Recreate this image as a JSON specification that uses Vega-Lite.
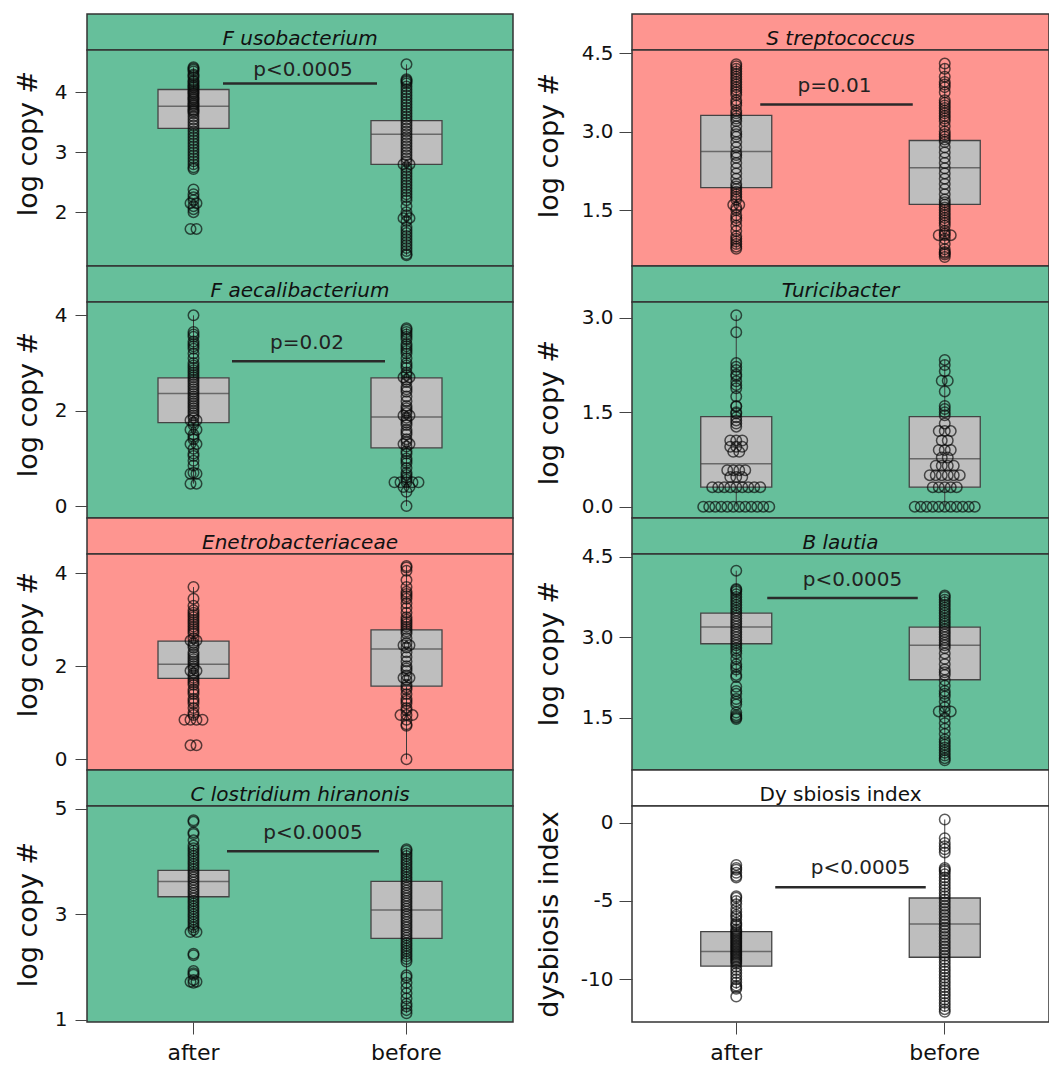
{
"$schema": "https://vega.github.io/schema/vega-lite/v6.json",
"padding": {"left": 13, "top": 13, "right": 0, "bottom": 0},
"background": "white",
"columns": 2,
"align": "each",
"bounds": "flush",
"spacing": {"row": 0, "column": 119},
"resolve": {"scale": {"xOffset": "independent", "x": "independent", "y": "independent"}},
"config": {
  "font": "DejaVu Sans",
  "view": {"stroke": null},
  "axis": {"labelFont": "DejaVu Sans", "titleFont": "DejaVu Sans", "titleFontWeight": "normal", "grid": false, "domain": false, "tickColor": "#444444", "labelColor": "#111111", "titleColor": "#111111"},
  "text": {"font": "DejaVu Sans"},
  "point": {"shape": "circle", "filled": false, "size": 110, "stroke": "#0a0a0a", "strokeWidth": 1.5, "strokeOpacity": 0.95}
},
"datasets": {
"box": [
{"p":"Fuso","g":"after","lo":2.72,"q1":3.40,"med":3.77,"q3":4.05,"hi":4.42},
{"p":"Fuso","g":"before","lo":1.28,"q1":2.80,"med":3.30,"q3":3.53,"hi":4.47},
{"p":"Faec","g":"after","lo":0.47,"q1":1.75,"med":2.36,"q3":2.69,"hi":4.0},
{"p":"Faec","g":"before","lo":0.0,"q1":1.22,"med":1.87,"q3":2.69,"hi":3.73},
{"p":"Ente","g":"after","lo":0.85,"q1":1.74,"med":2.04,"q3":2.54,"hi":3.7},
{"p":"Ente","g":"before","lo":0.0,"q1":1.57,"med":2.37,"q3":2.78,"hi":4.15},
{"p":"Clos","g":"after","lo":2.66,"q1":3.33,"med":3.62,"q3":3.83,"hi":4.3},
{"p":"Clos","g":"before","lo":1.12,"q1":2.54,"med":3.08,"q3":3.62,"hi":4.23},
{"p":"Strep","g":"after","lo":0.76,"q1":1.93,"med":2.62,"q3":3.31,"hi":4.29},
{"p":"Strep","g":"before","lo":0.6,"q1":1.61,"med":2.31,"q3":2.83,"hi":4.3},
{"p":"Turi","g":"after","lo":0.0,"q1":0.31,"med":0.68,"q3":1.43,"hi":3.04},
{"p":"Turi","g":"before","lo":0.0,"q1":0.31,"med":0.76,"q3":1.43,"hi":2.33},
{"p":"Blau","g":"after","lo":2.26,"q1":2.88,"med":3.19,"q3":3.45,"hi":4.24},
{"p":"Blau","g":"before","lo":0.71,"q1":2.21,"med":2.85,"q3":3.19,"hi":3.78},
{"p":"Dys","g":"after","lo":-10.6,"q1":-9.15,"med":-8.23,"q3":-6.95,"hi":-4.7},
{"p":"Dys","g":"before","lo":-12.07,"q1":-8.59,"med":-6.47,"q3":-4.81,"hi":0.2}
],
"pv": [
{"p":"Fuso","a":"after","b":"before","y":4.15,"t":"p<0.0005"},
{"p":"Faec","a":"after","b":"before","y":3.04,"t":"p=0.02"},
{"p":"Clos","a":"after","b":"before","y":4.19,"t":"p<0.0005"},
{"p":"Strep","a":"after","b":"before","y":3.52,"t":"p=0.01"},
{"p":"Blau","a":"after","b":"before","y":3.73,"t":"p<0.0005"},
{"p":"Dys","a":"after","b":"before","y":-4.13,"t":"p<0.0005"}
],
"pts": [
{"p":"Fuso","g":"after","v":4.42},{"p":"Fuso","g":"after","v":4.4},{"p":"Fuso","g":"after","v":4.38},{"p":"Fuso","g":"after","v":4.35},{"p":"Fuso","g":"after","v":4.3},{"p":"Fuso","g":"after","v":4.28},{"p":"Fuso","g":"after","v":4.25},{"p":"Fuso","g":"after","v":4.2},{"p":"Fuso","g":"after","v":4.18},{"p":"Fuso","g":"after","v":4.15},{"p":"Fuso","g":"after","v":4.12},{"p":"Fuso","g":"after","v":4.1},{"p":"Fuso","g":"after","v":4.08},{"p":"Fuso","g":"after","v":4.05},{"p":"Fuso","g":"after","v":4.02},{"p":"Fuso","g":"after","v":4.0},{"p":"Fuso","g":"after","v":3.98},{"p":"Fuso","g":"after","v":3.95},{"p":"Fuso","g":"after","v":3.92},{"p":"Fuso","g":"after","v":3.9},{"p":"Fuso","g":"after","v":3.88},{"p":"Fuso","g":"after","v":3.85},{"p":"Fuso","g":"after","v":3.82},{"p":"Fuso","g":"after","v":3.8},{"p":"Fuso","g":"after","v":3.78},{"p":"Fuso","g":"after","v":3.75},{"p":"Fuso","g":"after","v":3.72},{"p":"Fuso","g":"after","v":3.7},{"p":"Fuso","g":"after","v":3.68},{"p":"Fuso","g":"after","v":3.65},{"p":"Fuso","g":"after","v":3.6},{"p":"Fuso","g":"after","v":3.55},{"p":"Fuso","g":"after","v":3.5},{"p":"Fuso","g":"after","v":3.45},{"p":"Fuso","g":"after","v":3.4},{"p":"Fuso","g":"after","v":3.35},{"p":"Fuso","g":"after","v":3.3},{"p":"Fuso","g":"after","v":3.25},{"p":"Fuso","g":"after","v":3.2},{"p":"Fuso","g":"after","v":3.15},{"p":"Fuso","g":"after","v":3.1},{"p":"Fuso","g":"after","v":3.05},{"p":"Fuso","g":"after","v":3.0},{"p":"Fuso","g":"after","v":2.95},{"p":"Fuso","g":"after","v":2.9},{"p":"Fuso","g":"after","v":2.85},{"p":"Fuso","g":"after","v":2.8},{"p":"Fuso","g":"after","v":2.75},{"p":"Fuso","g":"after","v":2.72},{"p":"Fuso","g":"after","v":2.38},{"p":"Fuso","g":"after","v":2.3},{"p":"Fuso","g":"after","v":2.25},{"p":"Fuso","g":"after","v":2.2},{"p":"Fuso","g":"after","v":2.15},{"p":"Fuso","g":"after","v":2.15},{"p":"Fuso","g":"after","v":2.1},{"p":"Fuso","g":"after","v":2.05},{"p":"Fuso","g":"after","v":2.0},{"p":"Fuso","g":"after","v":1.72},{"p":"Fuso","g":"after","v":1.72},
{"p":"Fuso","g":"before","v":4.47},{"p":"Fuso","g":"before","v":4.22},{"p":"Fuso","g":"before","v":4.2},{"p":"Fuso","g":"before","v":4.18},{"p":"Fuso","g":"before","v":4.15},{"p":"Fuso","g":"before","v":4.1},{"p":"Fuso","g":"before","v":4.05},{"p":"Fuso","g":"before","v":4.0},{"p":"Fuso","g":"before","v":3.95},{"p":"Fuso","g":"before","v":3.9},{"p":"Fuso","g":"before","v":3.85},{"p":"Fuso","g":"before","v":3.8},{"p":"Fuso","g":"before","v":3.75},{"p":"Fuso","g":"before","v":3.7},{"p":"Fuso","g":"before","v":3.65},{"p":"Fuso","g":"before","v":3.6},{"p":"Fuso","g":"before","v":3.55},{"p":"Fuso","g":"before","v":3.5},{"p":"Fuso","g":"before","v":3.45},{"p":"Fuso","g":"before","v":3.4},{"p":"Fuso","g":"before","v":3.35},{"p":"Fuso","g":"before","v":3.3},{"p":"Fuso","g":"before","v":3.25},{"p":"Fuso","g":"before","v":3.2},{"p":"Fuso","g":"before","v":3.15},{"p":"Fuso","g":"before","v":3.1},{"p":"Fuso","g":"before","v":3.05},{"p":"Fuso","g":"before","v":3.0},{"p":"Fuso","g":"before","v":2.95},{"p":"Fuso","g":"before","v":2.9},{"p":"Fuso","g":"before","v":2.85},{"p":"Fuso","g":"before","v":2.8},{"p":"Fuso","g":"before","v":2.8},{"p":"Fuso","g":"before","v":2.75},{"p":"Fuso","g":"before","v":2.7},{"p":"Fuso","g":"before","v":2.65},{"p":"Fuso","g":"before","v":2.6},{"p":"Fuso","g":"before","v":2.55},{"p":"Fuso","g":"before","v":2.5},{"p":"Fuso","g":"before","v":2.45},{"p":"Fuso","g":"before","v":2.4},{"p":"Fuso","g":"before","v":2.35},{"p":"Fuso","g":"before","v":2.3},{"p":"Fuso","g":"before","v":2.25},{"p":"Fuso","g":"before","v":2.2},{"p":"Fuso","g":"before","v":2.1},{"p":"Fuso","g":"before","v":2.0},{"p":"Fuso","g":"before","v":1.95},{"p":"Fuso","g":"before","v":1.9},{"p":"Fuso","g":"before","v":1.9},{"p":"Fuso","g":"before","v":1.85},{"p":"Fuso","g":"before","v":1.75},{"p":"Fuso","g":"before","v":1.7},{"p":"Fuso","g":"before","v":1.65},{"p":"Fuso","g":"before","v":1.6},{"p":"Fuso","g":"before","v":1.55},{"p":"Fuso","g":"before","v":1.5},{"p":"Fuso","g":"before","v":1.45},{"p":"Fuso","g":"before","v":1.4},{"p":"Fuso","g":"before","v":1.35},{"p":"Fuso","g":"before","v":1.3},{"p":"Fuso","g":"before","v":1.28},
{"p":"Faec","g":"after","v":4.0},{"p":"Faec","g":"after","v":3.65},{"p":"Faec","g":"after","v":3.6},{"p":"Faec","g":"after","v":3.55},{"p":"Faec","g":"after","v":3.45},{"p":"Faec","g":"after","v":3.4},{"p":"Faec","g":"after","v":3.35},{"p":"Faec","g":"after","v":3.3},{"p":"Faec","g":"after","v":3.2},{"p":"Faec","g":"after","v":3.1},{"p":"Faec","g":"after","v":3.0},{"p":"Faec","g":"after","v":2.95},{"p":"Faec","g":"after","v":2.9},{"p":"Faec","g":"after","v":2.85},{"p":"Faec","g":"after","v":2.8},{"p":"Faec","g":"after","v":2.75},{"p":"Faec","g":"after","v":2.7},{"p":"Faec","g":"after","v":2.65},{"p":"Faec","g":"after","v":2.6},{"p":"Faec","g":"after","v":2.55},{"p":"Faec","g":"after","v":2.5},{"p":"Faec","g":"after","v":2.45},{"p":"Faec","g":"after","v":2.4},{"p":"Faec","g":"after","v":2.35},{"p":"Faec","g":"after","v":2.3},{"p":"Faec","g":"after","v":2.25},{"p":"Faec","g":"after","v":2.2},{"p":"Faec","g":"after","v":2.15},{"p":"Faec","g":"after","v":2.1},{"p":"Faec","g":"after","v":2.05},{"p":"Faec","g":"after","v":2.0},{"p":"Faec","g":"after","v":1.95},{"p":"Faec","g":"after","v":1.9},{"p":"Faec","g":"after","v":1.85},{"p":"Faec","g":"after","v":1.8},{"p":"Faec","g":"after","v":1.8},{"p":"Faec","g":"after","v":1.75},{"p":"Faec","g":"after","v":1.7},{"p":"Faec","g":"after","v":1.6},{"p":"Faec","g":"after","v":1.6},{"p":"Faec","g":"after","v":1.5},{"p":"Faec","g":"after","v":1.45},{"p":"Faec","g":"after","v":1.4},{"p":"Faec","g":"after","v":1.3},{"p":"Faec","g":"after","v":1.3},{"p":"Faec","g":"after","v":1.2},{"p":"Faec","g":"after","v":1.1},{"p":"Faec","g":"after","v":1.05},{"p":"Faec","g":"after","v":0.95},{"p":"Faec","g":"after","v":0.85},{"p":"Faec","g":"after","v":0.7},{"p":"Faec","g":"after","v":0.68},{"p":"Faec","g":"after","v":0.68},{"p":"Faec","g":"after","v":0.47},{"p":"Faec","g":"after","v":0.47},
{"p":"Faec","g":"before","v":3.73},{"p":"Faec","g":"before","v":3.7},{"p":"Faec","g":"before","v":3.65},{"p":"Faec","g":"before","v":3.6},{"p":"Faec","g":"before","v":3.55},{"p":"Faec","g":"before","v":3.5},{"p":"Faec","g":"before","v":3.4},{"p":"Faec","g":"before","v":3.35},{"p":"Faec","g":"before","v":3.3},{"p":"Faec","g":"before","v":3.25},{"p":"Faec","g":"before","v":3.2},{"p":"Faec","g":"before","v":3.1},{"p":"Faec","g":"before","v":3.0},{"p":"Faec","g":"before","v":2.95},{"p":"Faec","g":"before","v":2.9},{"p":"Faec","g":"before","v":2.8},{"p":"Faec","g":"before","v":2.75},{"p":"Faec","g":"before","v":2.7},{"p":"Faec","g":"before","v":2.7},{"p":"Faec","g":"before","v":2.65},{"p":"Faec","g":"before","v":2.6},{"p":"Faec","g":"before","v":2.5},{"p":"Faec","g":"before","v":2.45},{"p":"Faec","g":"before","v":2.4},{"p":"Faec","g":"before","v":2.3},{"p":"Faec","g":"before","v":2.2},{"p":"Faec","g":"before","v":2.1},{"p":"Faec","g":"before","v":2.05},{"p":"Faec","g":"before","v":2.0},{"p":"Faec","g":"before","v":1.95},{"p":"Faec","g":"before","v":1.9},{"p":"Faec","g":"before","v":1.9},{"p":"Faec","g":"before","v":1.85},{"p":"Faec","g":"before","v":1.8},{"p":"Faec","g":"before","v":1.75},{"p":"Faec","g":"before","v":1.7},{"p":"Faec","g":"before","v":1.6},{"p":"Faec","g":"before","v":1.55},{"p":"Faec","g":"before","v":1.5},{"p":"Faec","g":"before","v":1.4},{"p":"Faec","g":"before","v":1.35},{"p":"Faec","g":"before","v":1.3},{"p":"Faec","g":"before","v":1.3},{"p":"Faec","g":"before","v":1.25},{"p":"Faec","g":"before","v":1.15},{"p":"Faec","g":"before","v":1.1},{"p":"Faec","g":"before","v":1.0},{"p":"Faec","g":"before","v":0.95},{"p":"Faec","g":"before","v":0.9},{"p":"Faec","g":"before","v":0.8},{"p":"Faec","g":"before","v":0.7},{"p":"Faec","g":"before","v":0.65},{"p":"Faec","g":"before","v":0.6},{"p":"Faec","g":"before","v":0.55},{"p":"Faec","g":"before","v":0.5},{"p":"Faec","g":"before","v":0.5},{"p":"Faec","g":"before","v":0.5},{"p":"Faec","g":"before","v":0.5},{"p":"Faec","g":"before","v":0.5},{"p":"Faec","g":"before","v":0.4},{"p":"Faec","g":"before","v":0.4},{"p":"Faec","g":"before","v":0.3},{"p":"Faec","g":"before","v":0.0},
{"p":"Ente","g":"after","v":3.7},{"p":"Ente","g":"after","v":3.45},{"p":"Ente","g":"after","v":3.3},{"p":"Ente","g":"after","v":3.2},{"p":"Ente","g":"after","v":3.15},{"p":"Ente","g":"after","v":3.1},{"p":"Ente","g":"after","v":3.05},{"p":"Ente","g":"after","v":3.0},{"p":"Ente","g":"after","v":2.95},{"p":"Ente","g":"after","v":2.9},{"p":"Ente","g":"after","v":2.85},{"p":"Ente","g":"after","v":2.8},{"p":"Ente","g":"after","v":2.75},{"p":"Ente","g":"after","v":2.7},{"p":"Ente","g":"after","v":2.6},{"p":"Ente","g":"after","v":2.55},{"p":"Ente","g":"after","v":2.55},{"p":"Ente","g":"after","v":2.5},{"p":"Ente","g":"after","v":2.45},{"p":"Ente","g":"after","v":2.4},{"p":"Ente","g":"after","v":2.3},{"p":"Ente","g":"after","v":2.25},{"p":"Ente","g":"after","v":2.2},{"p":"Ente","g":"after","v":2.15},{"p":"Ente","g":"after","v":2.1},{"p":"Ente","g":"after","v":2.05},{"p":"Ente","g":"after","v":2.0},{"p":"Ente","g":"after","v":1.95},{"p":"Ente","g":"after","v":1.9},{"p":"Ente","g":"after","v":1.9},{"p":"Ente","g":"after","v":1.85},{"p":"Ente","g":"after","v":1.8},{"p":"Ente","g":"after","v":1.75},{"p":"Ente","g":"after","v":1.7},{"p":"Ente","g":"after","v":1.65},{"p":"Ente","g":"after","v":1.6},{"p":"Ente","g":"after","v":1.5},{"p":"Ente","g":"after","v":1.45},{"p":"Ente","g":"after","v":1.4},{"p":"Ente","g":"after","v":1.3},{"p":"Ente","g":"after","v":1.25},{"p":"Ente","g":"after","v":1.2},{"p":"Ente","g":"after","v":1.1},{"p":"Ente","g":"after","v":1.0},{"p":"Ente","g":"after","v":0.95},{"p":"Ente","g":"after","v":0.85},{"p":"Ente","g":"after","v":0.85},{"p":"Ente","g":"after","v":0.85},{"p":"Ente","g":"after","v":0.85},{"p":"Ente","g":"after","v":0.3},{"p":"Ente","g":"after","v":0.3},
{"p":"Ente","g":"before","v":4.15},{"p":"Ente","g":"before","v":4.12},{"p":"Ente","g":"before","v":4.05},{"p":"Ente","g":"before","v":3.85},{"p":"Ente","g":"before","v":3.7},{"p":"Ente","g":"before","v":3.6},{"p":"Ente","g":"before","v":3.55},{"p":"Ente","g":"before","v":3.5},{"p":"Ente","g":"before","v":3.45},{"p":"Ente","g":"before","v":3.35},{"p":"Ente","g":"before","v":3.25},{"p":"Ente","g":"before","v":3.15},{"p":"Ente","g":"before","v":3.05},{"p":"Ente","g":"before","v":3.0},{"p":"Ente","g":"before","v":2.95},{"p":"Ente","g":"before","v":2.9},{"p":"Ente","g":"before","v":2.85},{"p":"Ente","g":"before","v":2.8},{"p":"Ente","g":"before","v":2.75},{"p":"Ente","g":"before","v":2.7},{"p":"Ente","g":"before","v":2.6},{"p":"Ente","g":"before","v":2.5},{"p":"Ente","g":"before","v":2.45},{"p":"Ente","g":"before","v":2.45},{"p":"Ente","g":"before","v":2.4},{"p":"Ente","g":"before","v":2.3},{"p":"Ente","g":"before","v":2.2},{"p":"Ente","g":"before","v":2.1},{"p":"Ente","g":"before","v":2.0},{"p":"Ente","g":"before","v":1.95},{"p":"Ente","g":"before","v":1.9},{"p":"Ente","g":"before","v":1.8},{"p":"Ente","g":"before","v":1.75},{"p":"Ente","g":"before","v":1.75},{"p":"Ente","g":"before","v":1.7},{"p":"Ente","g":"before","v":1.6},{"p":"Ente","g":"before","v":1.55},{"p":"Ente","g":"before","v":1.5},{"p":"Ente","g":"before","v":1.4},{"p":"Ente","g":"before","v":1.3},{"p":"Ente","g":"before","v":1.25},{"p":"Ente","g":"before","v":1.2},{"p":"Ente","g":"before","v":1.1},{"p":"Ente","g":"before","v":1.05},{"p":"Ente","g":"before","v":0.95},{"p":"Ente","g":"before","v":0.95},{"p":"Ente","g":"before","v":0.95},{"p":"Ente","g":"before","v":0.85},{"p":"Ente","g":"before","v":0.75},{"p":"Ente","g":"before","v":0.72},{"p":"Ente","g":"before","v":0.0},
{"p":"Clos","g":"after","v":4.78},{"p":"Clos","g":"after","v":4.75},{"p":"Clos","g":"after","v":4.55},{"p":"Clos","g":"after","v":4.52},{"p":"Clos","g":"after","v":4.4},{"p":"Clos","g":"after","v":4.3},{"p":"Clos","g":"after","v":4.25},{"p":"Clos","g":"after","v":4.2},{"p":"Clos","g":"after","v":4.15},{"p":"Clos","g":"after","v":4.1},{"p":"Clos","g":"after","v":4.05},{"p":"Clos","g":"after","v":4.0},{"p":"Clos","g":"after","v":3.95},{"p":"Clos","g":"after","v":3.9},{"p":"Clos","g":"after","v":3.85},{"p":"Clos","g":"after","v":3.8},{"p":"Clos","g":"after","v":3.75},{"p":"Clos","g":"after","v":3.7},{"p":"Clos","g":"after","v":3.65},{"p":"Clos","g":"after","v":3.6},{"p":"Clos","g":"after","v":3.55},{"p":"Clos","g":"after","v":3.5},{"p":"Clos","g":"after","v":3.45},{"p":"Clos","g":"after","v":3.4},{"p":"Clos","g":"after","v":3.35},{"p":"Clos","g":"after","v":3.3},{"p":"Clos","g":"after","v":3.25},{"p":"Clos","g":"after","v":3.2},{"p":"Clos","g":"after","v":3.15},{"p":"Clos","g":"after","v":3.1},{"p":"Clos","g":"after","v":3.05},{"p":"Clos","g":"after","v":3.0},{"p":"Clos","g":"after","v":2.95},{"p":"Clos","g":"after","v":2.9},{"p":"Clos","g":"after","v":2.85},{"p":"Clos","g":"after","v":2.8},{"p":"Clos","g":"after","v":2.75},{"p":"Clos","g":"after","v":2.7},{"p":"Clos","g":"after","v":2.66},{"p":"Clos","g":"after","v":2.66},{"p":"Clos","g":"after","v":2.25},{"p":"Clos","g":"after","v":2.22},{"p":"Clos","g":"after","v":1.92},{"p":"Clos","g":"after","v":1.88},{"p":"Clos","g":"after","v":1.85},{"p":"Clos","g":"after","v":1.75},{"p":"Clos","g":"after","v":1.72},{"p":"Clos","g":"after","v":1.72},{"p":"Clos","g":"after","v":1.7},
{"p":"Clos","g":"before","v":4.23},{"p":"Clos","g":"before","v":4.2},{"p":"Clos","g":"before","v":4.15},{"p":"Clos","g":"before","v":4.1},{"p":"Clos","g":"before","v":4.05},{"p":"Clos","g":"before","v":4.0},{"p":"Clos","g":"before","v":3.95},{"p":"Clos","g":"before","v":3.9},{"p":"Clos","g":"before","v":3.85},{"p":"Clos","g":"before","v":3.8},{"p":"Clos","g":"before","v":3.75},{"p":"Clos","g":"before","v":3.7},{"p":"Clos","g":"before","v":3.65},{"p":"Clos","g":"before","v":3.6},{"p":"Clos","g":"before","v":3.55},{"p":"Clos","g":"before","v":3.5},{"p":"Clos","g":"before","v":3.45},{"p":"Clos","g":"before","v":3.4},{"p":"Clos","g":"before","v":3.35},{"p":"Clos","g":"before","v":3.3},{"p":"Clos","g":"before","v":3.25},{"p":"Clos","g":"before","v":3.2},{"p":"Clos","g":"before","v":3.15},{"p":"Clos","g":"before","v":3.1},{"p":"Clos","g":"before","v":3.05},{"p":"Clos","g":"before","v":3.0},{"p":"Clos","g":"before","v":2.95},{"p":"Clos","g":"before","v":2.9},{"p":"Clos","g":"before","v":2.85},{"p":"Clos","g":"before","v":2.8},{"p":"Clos","g":"before","v":2.75},{"p":"Clos","g":"before","v":2.7},{"p":"Clos","g":"before","v":2.65},{"p":"Clos","g":"before","v":2.6},{"p":"Clos","g":"before","v":2.55},{"p":"Clos","g":"before","v":2.5},{"p":"Clos","g":"before","v":2.45},{"p":"Clos","g":"before","v":2.4},{"p":"Clos","g":"before","v":2.35},{"p":"Clos","g":"before","v":2.3},{"p":"Clos","g":"before","v":2.25},{"p":"Clos","g":"before","v":2.2},{"p":"Clos","g":"before","v":2.15},{"p":"Clos","g":"before","v":2.1},{"p":"Clos","g":"before","v":1.84},{"p":"Clos","g":"before","v":1.8},{"p":"Clos","g":"before","v":1.7},{"p":"Clos","g":"before","v":1.6},{"p":"Clos","g":"before","v":1.5},{"p":"Clos","g":"before","v":1.4},{"p":"Clos","g":"before","v":1.3},{"p":"Clos","g":"before","v":1.25},{"p":"Clos","g":"before","v":1.18},{"p":"Clos","g":"before","v":1.12},
{"p":"Strep","g":"after","v":4.29},{"p":"Strep","g":"after","v":4.25},{"p":"Strep","g":"after","v":4.2},{"p":"Strep","g":"after","v":4.15},{"p":"Strep","g":"after","v":4.1},{"p":"Strep","g":"after","v":4.05},{"p":"Strep","g":"after","v":4.0},{"p":"Strep","g":"after","v":3.95},{"p":"Strep","g":"after","v":3.9},{"p":"Strep","g":"after","v":3.85},{"p":"Strep","g":"after","v":3.8},{"p":"Strep","g":"after","v":3.75},{"p":"Strep","g":"after","v":3.7},{"p":"Strep","g":"after","v":3.6},{"p":"Strep","g":"after","v":3.55},{"p":"Strep","g":"after","v":3.5},{"p":"Strep","g":"after","v":3.4},{"p":"Strep","g":"after","v":3.35},{"p":"Strep","g":"after","v":3.3},{"p":"Strep","g":"after","v":3.25},{"p":"Strep","g":"after","v":3.2},{"p":"Strep","g":"after","v":3.1},{"p":"Strep","g":"after","v":3.0},{"p":"Strep","g":"after","v":2.95},{"p":"Strep","g":"after","v":2.9},{"p":"Strep","g":"after","v":2.8},{"p":"Strep","g":"after","v":2.7},{"p":"Strep","g":"after","v":2.6},{"p":"Strep","g":"after","v":2.55},{"p":"Strep","g":"after","v":2.5},{"p":"Strep","g":"after","v":2.4},{"p":"Strep","g":"after","v":2.3},{"p":"Strep","g":"after","v":2.2},{"p":"Strep","g":"after","v":2.1},{"p":"Strep","g":"after","v":2.0},{"p":"Strep","g":"after","v":1.95},{"p":"Strep","g":"after","v":1.9},{"p":"Strep","g":"after","v":1.85},{"p":"Strep","g":"after","v":1.8},{"p":"Strep","g":"after","v":1.75},{"p":"Strep","g":"after","v":1.7},{"p":"Strep","g":"after","v":1.6},{"p":"Strep","g":"after","v":1.6},{"p":"Strep","g":"after","v":1.55},{"p":"Strep","g":"after","v":1.5},{"p":"Strep","g":"after","v":1.4},{"p":"Strep","g":"after","v":1.35},{"p":"Strep","g":"after","v":1.3},{"p":"Strep","g":"after","v":1.2},{"p":"Strep","g":"after","v":1.1},{"p":"Strep","g":"after","v":1.0},{"p":"Strep","g":"after","v":0.95},{"p":"Strep","g":"after","v":0.9},{"p":"Strep","g":"after","v":0.85},{"p":"Strep","g":"after","v":0.8},{"p":"Strep","g":"after","v":0.76},
{"p":"Strep","g":"before","v":4.3},{"p":"Strep","g":"before","v":4.2},{"p":"Strep","g":"before","v":4.05},{"p":"Strep","g":"before","v":3.95},{"p":"Strep","g":"before","v":3.9},{"p":"Strep","g":"before","v":3.85},{"p":"Strep","g":"before","v":3.75},{"p":"Strep","g":"before","v":3.6},{"p":"Strep","g":"before","v":3.55},{"p":"Strep","g":"before","v":3.5},{"p":"Strep","g":"before","v":3.45},{"p":"Strep","g":"before","v":3.4},{"p":"Strep","g":"before","v":3.35},{"p":"Strep","g":"before","v":3.3},{"p":"Strep","g":"before","v":3.25},{"p":"Strep","g":"before","v":3.2},{"p":"Strep","g":"before","v":3.1},{"p":"Strep","g":"before","v":3.0},{"p":"Strep","g":"before","v":2.95},{"p":"Strep","g":"before","v":2.9},{"p":"Strep","g":"before","v":2.85},{"p":"Strep","g":"before","v":2.8},{"p":"Strep","g":"before","v":2.7},{"p":"Strep","g":"before","v":2.6},{"p":"Strep","g":"before","v":2.5},{"p":"Strep","g":"before","v":2.4},{"p":"Strep","g":"before","v":2.3},{"p":"Strep","g":"before","v":2.2},{"p":"Strep","g":"before","v":2.1},{"p":"Strep","g":"before","v":2.0},{"p":"Strep","g":"before","v":1.9},{"p":"Strep","g":"before","v":1.8},{"p":"Strep","g":"before","v":1.7},{"p":"Strep","g":"before","v":1.65},{"p":"Strep","g":"before","v":1.6},{"p":"Strep","g":"before","v":1.55},{"p":"Strep","g":"before","v":1.5},{"p":"Strep","g":"before","v":1.45},{"p":"Strep","g":"before","v":1.4},{"p":"Strep","g":"before","v":1.35},{"p":"Strep","g":"before","v":1.3},{"p":"Strep","g":"before","v":1.25},{"p":"Strep","g":"before","v":1.2},{"p":"Strep","g":"before","v":1.1},{"p":"Strep","g":"before","v":1.05},{"p":"Strep","g":"before","v":1.02},{"p":"Strep","g":"before","v":1.02},{"p":"Strep","g":"before","v":1.02},{"p":"Strep","g":"before","v":0.95},{"p":"Strep","g":"before","v":0.85},{"p":"Strep","g":"before","v":0.75},{"p":"Strep","g":"before","v":0.7},{"p":"Strep","g":"before","v":0.68},{"p":"Strep","g":"before","v":0.65},{"p":"Strep","g":"before","v":0.6},
{"p":"Turi","g":"after","v":3.04},{"p":"Turi","g":"after","v":2.77},{"p":"Turi","g":"after","v":2.28},{"p":"Turi","g":"after","v":2.22},{"p":"Turi","g":"after","v":2.17},{"p":"Turi","g":"after","v":2.1},{"p":"Turi","g":"after","v":2.07},{"p":"Turi","g":"after","v":1.99},{"p":"Turi","g":"after","v":1.93},{"p":"Turi","g":"after","v":1.88},{"p":"Turi","g":"after","v":1.75},{"p":"Turi","g":"after","v":1.6},{"p":"Turi","g":"after","v":1.59},{"p":"Turi","g":"after","v":1.5},{"p":"Turi","g":"after","v":1.48},{"p":"Turi","g":"after","v":1.42},{"p":"Turi","g":"after","v":1.37},{"p":"Turi","g":"after","v":1.32},{"p":"Turi","g":"after","v":1.27},{"p":"Turi","g":"after","v":1.05},{"p":"Turi","g":"after","v":1.05},{"p":"Turi","g":"after","v":1.05},{"p":"Turi","g":"after","v":0.95},{"p":"Turi","g":"after","v":0.95},{"p":"Turi","g":"after","v":0.95},{"p":"Turi","g":"after","v":0.87},{"p":"Turi","g":"after","v":0.87},{"p":"Turi","g":"after","v":0.58},{"p":"Turi","g":"after","v":0.58},{"p":"Turi","g":"after","v":0.58},{"p":"Turi","g":"after","v":0.58},{"p":"Turi","g":"after","v":0.47},{"p":"Turi","g":"after","v":0.47},{"p":"Turi","g":"after","v":0.47},{"p":"Turi","g":"after","v":0.31},{"p":"Turi","g":"after","v":0.31},{"p":"Turi","g":"after","v":0.31},{"p":"Turi","g":"after","v":0.31},{"p":"Turi","g":"after","v":0.31},{"p":"Turi","g":"after","v":0.31},{"p":"Turi","g":"after","v":0.31},{"p":"Turi","g":"after","v":0.31},{"p":"Turi","g":"after","v":0.31},{"p":"Turi","g":"after","v":0},{"p":"Turi","g":"after","v":0},{"p":"Turi","g":"after","v":0},{"p":"Turi","g":"after","v":0},{"p":"Turi","g":"after","v":0},{"p":"Turi","g":"after","v":0},{"p":"Turi","g":"after","v":0},{"p":"Turi","g":"after","v":0},{"p":"Turi","g":"after","v":0},{"p":"Turi","g":"after","v":0},{"p":"Turi","g":"after","v":0},{"p":"Turi","g":"after","v":0},
{"p":"Turi","g":"before","v":2.33},{"p":"Turi","g":"before","v":2.25},{"p":"Turi","g":"before","v":2.15},{"p":"Turi","g":"before","v":2.0},{"p":"Turi","g":"before","v":2.0},{"p":"Turi","g":"before","v":1.83},{"p":"Turi","g":"before","v":1.6},{"p":"Turi","g":"before","v":1.55},{"p":"Turi","g":"before","v":1.5},{"p":"Turi","g":"before","v":1.45},{"p":"Turi","g":"before","v":1.32},{"p":"Turi","g":"before","v":1.2},{"p":"Turi","g":"before","v":1.2},{"p":"Turi","g":"before","v":1.2},{"p":"Turi","g":"before","v":1.05},{"p":"Turi","g":"before","v":1.05},{"p":"Turi","g":"before","v":0.9},{"p":"Turi","g":"before","v":0.9},{"p":"Turi","g":"before","v":0.9},{"p":"Turi","g":"before","v":0.78},{"p":"Turi","g":"before","v":0.78},{"p":"Turi","g":"before","v":0.65},{"p":"Turi","g":"before","v":0.65},{"p":"Turi","g":"before","v":0.65},{"p":"Turi","g":"before","v":0.65},{"p":"Turi","g":"before","v":0.5},{"p":"Turi","g":"before","v":0.5},{"p":"Turi","g":"before","v":0.5},{"p":"Turi","g":"before","v":0.5},{"p":"Turi","g":"before","v":0.5},{"p":"Turi","g":"before","v":0.5},{"p":"Turi","g":"before","v":0.31},{"p":"Turi","g":"before","v":0.31},{"p":"Turi","g":"before","v":0.31},{"p":"Turi","g":"before","v":0.31},{"p":"Turi","g":"before","v":0.31},{"p":"Turi","g":"before","v":0},{"p":"Turi","g":"before","v":0},{"p":"Turi","g":"before","v":0},{"p":"Turi","g":"before","v":0},{"p":"Turi","g":"before","v":0},{"p":"Turi","g":"before","v":0},{"p":"Turi","g":"before","v":0},{"p":"Turi","g":"before","v":0},{"p":"Turi","g":"before","v":0},{"p":"Turi","g":"before","v":0},{"p":"Turi","g":"before","v":0},
{"p":"Blau","g":"after","v":4.24},{"p":"Blau","g":"after","v":3.9},{"p":"Blau","g":"after","v":3.88},{"p":"Blau","g":"after","v":3.85},{"p":"Blau","g":"after","v":3.8},{"p":"Blau","g":"after","v":3.75},{"p":"Blau","g":"after","v":3.7},{"p":"Blau","g":"after","v":3.65},{"p":"Blau","g":"after","v":3.6},{"p":"Blau","g":"after","v":3.55},{"p":"Blau","g":"after","v":3.5},{"p":"Blau","g":"after","v":3.45},{"p":"Blau","g":"after","v":3.4},{"p":"Blau","g":"after","v":3.35},{"p":"Blau","g":"after","v":3.3},{"p":"Blau","g":"after","v":3.25},{"p":"Blau","g":"after","v":3.2},{"p":"Blau","g":"after","v":3.15},{"p":"Blau","g":"after","v":3.1},{"p":"Blau","g":"after","v":3.05},{"p":"Blau","g":"after","v":3.0},{"p":"Blau","g":"after","v":2.95},{"p":"Blau","g":"after","v":2.9},{"p":"Blau","g":"after","v":2.85},{"p":"Blau","g":"after","v":2.8},{"p":"Blau","g":"after","v":2.75},{"p":"Blau","g":"after","v":2.7},{"p":"Blau","g":"after","v":2.6},{"p":"Blau","g":"after","v":2.5},{"p":"Blau","g":"after","v":2.45},{"p":"Blau","g":"after","v":2.4},{"p":"Blau","g":"after","v":2.3},{"p":"Blau","g":"after","v":2.26},{"p":"Blau","g":"after","v":2.08},{"p":"Blau","g":"after","v":2.0},{"p":"Blau","g":"after","v":1.95},{"p":"Blau","g":"after","v":1.85},{"p":"Blau","g":"after","v":1.8},{"p":"Blau","g":"after","v":1.75},{"p":"Blau","g":"after","v":1.6},{"p":"Blau","g":"after","v":1.55},{"p":"Blau","g":"after","v":1.52},{"p":"Blau","g":"after","v":1.5},{"p":"Blau","g":"after","v":1.48},
{"p":"Blau","g":"before","v":3.78},{"p":"Blau","g":"before","v":3.75},{"p":"Blau","g":"before","v":3.7},{"p":"Blau","g":"before","v":3.65},{"p":"Blau","g":"before","v":3.6},{"p":"Blau","g":"before","v":3.55},{"p":"Blau","g":"before","v":3.5},{"p":"Blau","g":"before","v":3.45},{"p":"Blau","g":"before","v":3.4},{"p":"Blau","g":"before","v":3.35},{"p":"Blau","g":"before","v":3.3},{"p":"Blau","g":"before","v":3.25},{"p":"Blau","g":"before","v":3.2},{"p":"Blau","g":"before","v":3.15},{"p":"Blau","g":"before","v":3.1},{"p":"Blau","g":"before","v":3.05},{"p":"Blau","g":"before","v":3.0},{"p":"Blau","g":"before","v":2.95},{"p":"Blau","g":"before","v":2.9},{"p":"Blau","g":"before","v":2.85},{"p":"Blau","g":"before","v":2.8},{"p":"Blau","g":"before","v":2.7},{"p":"Blau","g":"before","v":2.6},{"p":"Blau","g":"before","v":2.5},{"p":"Blau","g":"before","v":2.4},{"p":"Blau","g":"before","v":2.35},{"p":"Blau","g":"before","v":2.3},{"p":"Blau","g":"before","v":2.2},{"p":"Blau","g":"before","v":2.1},{"p":"Blau","g":"before","v":2.0},{"p":"Blau","g":"before","v":1.95},{"p":"Blau","g":"before","v":1.9},{"p":"Blau","g":"before","v":1.8},{"p":"Blau","g":"before","v":1.7},{"p":"Blau","g":"before","v":1.62},{"p":"Blau","g":"before","v":1.62},{"p":"Blau","g":"before","v":1.62},{"p":"Blau","g":"before","v":1.5},{"p":"Blau","g":"before","v":1.4},{"p":"Blau","g":"before","v":1.3},{"p":"Blau","g":"before","v":1.2},{"p":"Blau","g":"before","v":1.1},{"p":"Blau","g":"before","v":1.05},{"p":"Blau","g":"before","v":1.0},{"p":"Blau","g":"before","v":0.95},{"p":"Blau","g":"before","v":0.9},{"p":"Blau","g":"before","v":0.85},{"p":"Blau","g":"before","v":0.8},{"p":"Blau","g":"before","v":0.75},{"p":"Blau","g":"before","v":0.71},
{"p":"Dys","g":"after","v":-2.7},{"p":"Dys","g":"after","v":-2.9},{"p":"Dys","g":"after","v":-3.0},{"p":"Dys","g":"after","v":-3.2},{"p":"Dys","g":"after","v":-3.4},{"p":"Dys","g":"after","v":-3.5},{"p":"Dys","g":"after","v":-4.7},{"p":"Dys","g":"after","v":-4.8},{"p":"Dys","g":"after","v":-5.0},{"p":"Dys","g":"after","v":-5.2},{"p":"Dys","g":"after","v":-5.5},{"p":"Dys","g":"after","v":-5.7},{"p":"Dys","g":"after","v":-5.9},{"p":"Dys","g":"after","v":-6.0},{"p":"Dys","g":"after","v":-6.2},{"p":"Dys","g":"after","v":-6.4},{"p":"Dys","g":"after","v":-6.5},{"p":"Dys","g":"after","v":-6.6},{"p":"Dys","g":"after","v":-6.8},{"p":"Dys","g":"after","v":-6.9},{"p":"Dys","g":"after","v":-7.0},{"p":"Dys","g":"after","v":-7.1},{"p":"Dys","g":"after","v":-7.2},{"p":"Dys","g":"after","v":-7.3},{"p":"Dys","g":"after","v":-7.4},{"p":"Dys","g":"after","v":-7.5},{"p":"Dys","g":"after","v":-7.6},{"p":"Dys","g":"after","v":-7.7},{"p":"Dys","g":"after","v":-7.8},{"p":"Dys","g":"after","v":-7.9},{"p":"Dys","g":"after","v":-8.0},{"p":"Dys","g":"after","v":-8.1},{"p":"Dys","g":"after","v":-8.2},{"p":"Dys","g":"after","v":-8.3},{"p":"Dys","g":"after","v":-8.4},{"p":"Dys","g":"after","v":-8.5},{"p":"Dys","g":"after","v":-8.6},{"p":"Dys","g":"after","v":-8.7},{"p":"Dys","g":"after","v":-8.8},{"p":"Dys","g":"after","v":-8.9},{"p":"Dys","g":"after","v":-9.0},{"p":"Dys","g":"after","v":-9.2},{"p":"Dys","g":"after","v":-9.4},{"p":"Dys","g":"after","v":-9.6},{"p":"Dys","g":"after","v":-9.8},{"p":"Dys","g":"after","v":-10.0},{"p":"Dys","g":"after","v":-10.2},{"p":"Dys","g":"after","v":-10.4},{"p":"Dys","g":"after","v":-10.5},{"p":"Dys","g":"after","v":-10.6},{"p":"Dys","g":"after","v":-11.1},
{"p":"Dys","g":"before","v":0.2},{"p":"Dys","g":"before","v":-1.0},{"p":"Dys","g":"before","v":-1.3},{"p":"Dys","g":"before","v":-1.5},{"p":"Dys","g":"before","v":-1.7},{"p":"Dys","g":"before","v":-1.9},{"p":"Dys","g":"before","v":-2.9},{"p":"Dys","g":"before","v":-3.0},{"p":"Dys","g":"before","v":-3.1},{"p":"Dys","g":"before","v":-3.3},{"p":"Dys","g":"before","v":-3.5},{"p":"Dys","g":"before","v":-3.7},{"p":"Dys","g":"before","v":-3.9},{"p":"Dys","g":"before","v":-4.1},{"p":"Dys","g":"before","v":-4.3},{"p":"Dys","g":"before","v":-4.5},{"p":"Dys","g":"before","v":-4.7},{"p":"Dys","g":"before","v":-4.9},{"p":"Dys","g":"before","v":-5.1},{"p":"Dys","g":"before","v":-5.3},{"p":"Dys","g":"before","v":-5.5},{"p":"Dys","g":"before","v":-5.7},{"p":"Dys","g":"before","v":-5.9},{"p":"Dys","g":"before","v":-6.1},{"p":"Dys","g":"before","v":-6.3},{"p":"Dys","g":"before","v":-6.5},{"p":"Dys","g":"before","v":-6.7},{"p":"Dys","g":"before","v":-6.9},{"p":"Dys","g":"before","v":-7.1},{"p":"Dys","g":"before","v":-7.3},{"p":"Dys","g":"before","v":-7.5},{"p":"Dys","g":"before","v":-7.7},{"p":"Dys","g":"before","v":-7.9},{"p":"Dys","g":"before","v":-8.1},{"p":"Dys","g":"before","v":-8.3},{"p":"Dys","g":"before","v":-8.5},{"p":"Dys","g":"before","v":-8.7},{"p":"Dys","g":"before","v":-8.9},{"p":"Dys","g":"before","v":-9.1},{"p":"Dys","g":"before","v":-9.3},{"p":"Dys","g":"before","v":-9.5},{"p":"Dys","g":"before","v":-9.7},{"p":"Dys","g":"before","v":-9.9},{"p":"Dys","g":"before","v":-10.1},{"p":"Dys","g":"before","v":-10.3},{"p":"Dys","g":"before","v":-10.5},{"p":"Dys","g":"before","v":-10.7},{"p":"Dys","g":"before","v":-10.9},{"p":"Dys","g":"before","v":-11.1},{"p":"Dys","g":"before","v":-11.3},{"p":"Dys","g":"before","v":-11.5},{"p":"Dys","g":"before","v":-11.7},{"p":"Dys","g":"before","v":-11.9},{"p":"Dys","g":"before","v":-12.07}
]
},
"concat": [
{"width":426,"height":36,"view":{"fill":"#66BF9B","stroke":"#333333","strokeWidth":1.5},"data":{"values":[{"t":"F usobacterium"}]},"mark":{"type":"text","fontStyle":"italic","fontSize":20,"dy":13,"baseline":"alphabetic","color":"#111111"},"encoding":{"text":{"field":"t","type":"nominal"}}},
{"width":417,"height":36,"view":{"fill":"#FE9590","stroke":"#333333","strokeWidth":1.5},"data":{"values":[{"t":"S treptococcus"}]},"mark":{"type":"text","fontStyle":"italic","fontSize":20,"dy":13,"baseline":"alphabetic","color":"#111111"},"encoding":{"text":{"field":"t","type":"nominal"}}},
{"width":426,"height":216,"view":{"fill":"#66BF9B","stroke":"#333333","strokeWidth":1.5},
 "layer":[
  {"data":{"name":"box"},"transform":[{"filter":"datum.p == 'Fuso'"}],"mark":{"type":"rule","color":"#3c3c3c","strokeWidth":1},
   "encoding":{"x":{"field":"g","type":"nominal","scale":{"type":"band","domain":["after","before"],"paddingInner":0,"paddingOuter":0},"axis":null},
    "y":{"field":"lo","type":"quantitative","title":"log copy #","scale":{"domain":[1.1,4.71],"nice":false,"zero":false},"axis":{"values":[2,3,4],"format":"d","tickSize":12,"labelPadding":8,"labelFontSize":20,"titleFontSize":27,"titlePadding":12,"minExtent":33,"maxExtent":33,"titleY":93}},
    "y2":{"field":"hi"}}},
  {"data":{"name":"box"},"transform":[{"filter":"datum.p == 'Fuso'"}],"mark":{"type":"bar","size":71,"fill":"#BEBEBE","stroke":"#444444","strokeWidth":1.3},
   "encoding":{"x":{"field":"g","type":"nominal","scale":{"type":"band","domain":["after","before"],"paddingInner":0,"paddingOuter":0},"axis":null},"y":{"field":"q1","type":"quantitative","title":"log copy #"},"y2":{"field":"q3"}}},
  {"data":{"name":"box"},"transform":[{"filter":"datum.p == 'Fuso'"}],"mark":{"type":"tick","size":71,"thickness":1.5,"color":"#444444","orient":"horizontal"},
   "encoding":{"x":{"field":"g","type":"nominal","scale":{"type":"band","domain":["after","before"],"paddingInner":0,"paddingOuter":0},"axis":null},"y":{"field":"med","type":"quantitative","title":"log copy #"}}},
  {"data":{"name":"pts"},"transform":[{"filter":"datum.p == 'Fuso'"},{"window":[{"op":"count","as":"one"}],"frame":[0,0],"ignorePeers":true},{"stack":"one","groupby":["g","v"],"offset":"center","as":["s0","s1"]}],
   "mark":{"type":"point"},
   "encoding":{"x":{"field":"g","type":"nominal","scale":{"type":"band","domain":["after","before"],"paddingInner":0,"paddingOuter":0},"axis":null},
    "xOffset":{"field":"s0","type":"quantitative","scale":{"domain":[-9.5,10.5],"range":[46.5,166.5],"nice":false,"zero":false}},
    "y":{"field":"v","type":"quantitative","title":"log copy #"}}},
  {"data":{"name":"pv"},"transform":[{"filter":"datum.p == 'Fuso'"}],"mark":{"type":"rule","color":"#2a2a2a","strokeWidth":2.5,"xOffset":29.5,"x2Offset":-29.5},
   "encoding":{"x":{"field":"a","type":"nominal","scale":{"type":"band","domain":["after","before"],"paddingInner":0,"paddingOuter":0},"axis":null},"x2":{"field":"b"},"y":{"field":"y","type":"quantitative","title":"log copy #"}}},
  {"data":{"name":"pv"},"transform":[{"filter":"datum.p == 'Fuso'"}],"mark":{"type":"text","fontSize":20,"baseline":"alphabetic","dy":-8,"dx":3,"color":"#222222"},
   "encoding":{"text":{"field":"t","type":"nominal"},"y":{"field":"y","type":"quantitative","title":"log copy #"}}}
 ]},
{"width":417,"height":216,"view":{"fill":"#FE9590","stroke":"#333333","strokeWidth":1.5},
 "layer":[
  {"data":{"name":"box"},"transform":[{"filter":"datum.p == 'Strep'"}],"mark":{"type":"rule","color":"#3c3c3c","strokeWidth":1},
   "encoding":{"x":{"field":"g","type":"nominal","scale":{"type":"band","domain":["after","before"],"paddingInner":0,"paddingOuter":0},"axis":null},
    "y":{"field":"lo","type":"quantitative","title":"log copy #","scale":{"domain":[0.43,4.56],"nice":false,"zero":false},"axis":{"values":[1.5,3,4.5],"format":".1f","tickSize":13,"labelPadding":6,"labelFontSize":20,"titleFontSize":27,"titlePadding":17,"minExtent":52,"maxExtent":52,"titleY":95}},
    "y2":{"field":"hi"}}},
  {"data":{"name":"box"},"transform":[{"filter":"datum.p == 'Strep'"}],"mark":{"type":"bar","size":71,"fill":"#BEBEBE","stroke":"#444444","strokeWidth":1.3},
   "encoding":{"x":{"field":"g","type":"nominal","scale":{"type":"band","domain":["after","before"],"paddingInner":0,"paddingOuter":0},"axis":null},"y":{"field":"q1","type":"quantitative","title":"log copy #"},"y2":{"field":"q3"}}},
  {"data":{"name":"box"},"transform":[{"filter":"datum.p == 'Strep'"}],"mark":{"type":"tick","size":71,"thickness":1.5,"color":"#444444","orient":"horizontal"},
   "encoding":{"x":{"field":"g","type":"nominal","scale":{"type":"band","domain":["after","before"],"paddingInner":0,"paddingOuter":0},"axis":null},"y":{"field":"med","type":"quantitative","title":"log copy #"}}},
  {"data":{"name":"pts"},"transform":[{"filter":"datum.p == 'Strep'"},{"window":[{"op":"count","as":"one"}],"frame":[0,0],"ignorePeers":true},{"stack":"one","groupby":["g","v"],"offset":"center","as":["s0","s1"]}],
   "mark":{"type":"point"},
   "encoding":{"x":{"field":"g","type":"nominal","scale":{"type":"band","domain":["after","before"],"paddingInner":0,"paddingOuter":0},"axis":null},
    "xOffset":{"field":"s0","type":"quantitative","scale":{"domain":[-9,11],"range":[44.25,164.25],"nice":false,"zero":false}},
    "y":{"field":"v","type":"quantitative","title":"log copy #"}}},
  {"data":{"name":"pv"},"transform":[{"filter":"datum.p == 'Strep'"}],"mark":{"type":"rule","color":"#2a2a2a","strokeWidth":2.5,"xOffset":24,"x2Offset":-32},
   "encoding":{"x":{"field":"a","type":"nominal","scale":{"type":"band","domain":["after","before"],"paddingInner":0,"paddingOuter":0},"axis":null},"x2":{"field":"b"},"y":{"field":"y","type":"quantitative","title":"log copy #"}}},
  {"data":{"name":"pv"},"transform":[{"filter":"datum.p == 'Strep'"}],"mark":{"type":"text","fontSize":20,"baseline":"alphabetic","dy":-12,"dx":-6,"color":"#222222"},
   "encoding":{"text":{"field":"t","type":"nominal"},"y":{"field":"y","type":"quantitative","title":"log copy #"}}}
 ]},
{"width":426,"height":36,"view":{"fill":"#66BF9B","stroke":"#333333","strokeWidth":1.5},"data":{"values":[{"t":"F aecalibacterium"}]},"mark":{"type":"text","fontStyle":"italic","fontSize":20,"dy":13,"baseline":"alphabetic","color":"#111111"},"encoding":{"text":{"field":"t","type":"nominal"}}},
{"width":417,"height":36,"view":{"fill":"#66BF9B","stroke":"#333333","strokeWidth":1.5},"data":{"values":[{"t":"Turicibacter"}]},"mark":{"type":"text","fontStyle":"italic","fontSize":20,"dy":13,"baseline":"alphabetic","color":"#111111"},"encoding":{"text":{"field":"t","type":"nominal"}}},
{"width":426,"height":216,"view":{"fill":"#66BF9B","stroke":"#333333","strokeWidth":1.5},
 "layer":[
  {"data":{"name":"box"},"transform":[{"filter":"datum.p == 'Faec'"}],"mark":{"type":"rule","color":"#3c3c3c","strokeWidth":1},
   "encoding":{"x":{"field":"g","type":"nominal","scale":{"type":"band","domain":["after","before"],"paddingInner":0,"paddingOuter":0},"axis":null},
    "y":{"field":"lo","type":"quantitative","title":"log copy #","scale":{"domain":[-0.25,4.28],"nice":false,"zero":false},"axis":{"values":[0,2,4],"format":"d","tickSize":12,"labelPadding":8,"labelFontSize":20,"titleFontSize":27,"titlePadding":12,"minExtent":33,"maxExtent":33,"titleY":102}},
    "y2":{"field":"hi"}}},
  {"data":{"name":"box"},"transform":[{"filter":"datum.p == 'Faec'"}],"mark":{"type":"bar","size":71,"fill":"#BEBEBE","stroke":"#444444","strokeWidth":1.3},
   "encoding":{"x":{"field":"g","type":"nominal","scale":{"type":"band","domain":["after","before"],"paddingInner":0,"paddingOuter":0},"axis":null},"y":{"field":"q1","type":"quantitative","title":"log copy #"},"y2":{"field":"q3"}}},
  {"data":{"name":"box"},"transform":[{"filter":"datum.p == 'Faec'"}],"mark":{"type":"tick","size":71,"thickness":1.5,"color":"#444444","orient":"horizontal"},
   "encoding":{"x":{"field":"g","type":"nominal","scale":{"type":"band","domain":["after","before"],"paddingInner":0,"paddingOuter":0},"axis":null},"y":{"field":"med","type":"quantitative","title":"log copy #"}}},
  {"data":{"name":"pts"},"transform":[{"filter":"datum.p == 'Faec'"},{"window":[{"op":"count","as":"one"}],"frame":[0,0],"ignorePeers":true},{"stack":"one","groupby":["g","v"],"offset":"center","as":["s0","s1"]}],
   "mark":{"type":"point"},
   "encoding":{"x":{"field":"g","type":"nominal","scale":{"type":"band","domain":["after","before"],"paddingInner":0,"paddingOuter":0},"axis":null},
    "xOffset":{"field":"s0","type":"quantitative","scale":{"domain":[-8,12],"range":[46.5,166.5],"nice":false,"zero":false}},
    "y":{"field":"v","type":"quantitative","title":"log copy #"}}},
  {"data":{"name":"pv"},"transform":[{"filter":"datum.p == 'Faec'"}],"mark":{"type":"rule","color":"#2a2a2a","strokeWidth":2.5,"xOffset":38.5,"x2Offset":-21.5},
   "encoding":{"x":{"field":"a","type":"nominal","scale":{"type":"band","domain":["after","before"],"paddingInner":0,"paddingOuter":0},"axis":null},"x2":{"field":"b"},"y":{"field":"y","type":"quantitative","title":"log copy #"}}},
  {"data":{"name":"pv"},"transform":[{"filter":"datum.p == 'Faec'"}],"mark":{"type":"text","fontSize":20,"baseline":"alphabetic","dy":-12,"dx":7,"color":"#222222"},
   "encoding":{"text":{"field":"t","type":"nominal"},"y":{"field":"y","type":"quantitative","title":"log copy #"}}}
 ]},
{"width":417,"height":216,"view":{"fill":"#66BF9B","stroke":"#333333","strokeWidth":1.5},
 "layer":[
  {"data":{"name":"box"},"transform":[{"filter":"datum.p == 'Turi'"}],"mark":{"type":"rule","color":"#3c3c3c","strokeWidth":1},
   "encoding":{"x":{"field":"g","type":"nominal","scale":{"type":"band","domain":["after","before"],"paddingInner":0,"paddingOuter":0},"axis":null},
    "y":{"field":"lo","type":"quantitative","title":"log copy #","scale":{"domain":[-0.18,3.25],"nice":false,"zero":false},"axis":{"values":[0,1.5,3],"format":".1f","tickSize":13,"labelPadding":6,"labelFontSize":20,"titleFontSize":27,"titlePadding":17,"minExtent":52,"maxExtent":52,"titleY":110}},
    "y2":{"field":"hi"}}},
  {"data":{"name":"box"},"transform":[{"filter":"datum.p == 'Turi'"}],"mark":{"type":"bar","size":71,"fill":"#BEBEBE","stroke":"#444444","strokeWidth":1.3},
   "encoding":{"x":{"field":"g","type":"nominal","scale":{"type":"band","domain":["after","before"],"paddingInner":0,"paddingOuter":0},"axis":null},"y":{"field":"q1","type":"quantitative","title":"log copy #"},"y2":{"field":"q3"}}},
  {"data":{"name":"box"},"transform":[{"filter":"datum.p == 'Turi'"}],"mark":{"type":"tick","size":71,"thickness":1.5,"color":"#444444","orient":"horizontal"},
   "encoding":{"x":{"field":"g","type":"nominal","scale":{"type":"band","domain":["after","before"],"paddingInner":0,"paddingOuter":0},"axis":null},"y":{"field":"med","type":"quantitative","title":"log copy #"}}},
  {"data":{"name":"pts"},"transform":[{"filter":"datum.p == 'Turi'"},{"window":[{"op":"count","as":"one"}],"frame":[0,0],"ignorePeers":true},{"stack":"one","groupby":["g","v"],"offset":"center","as":["s0","s1"]}],
   "mark":{"type":"point"},
   "encoding":{"x":{"field":"g","type":"nominal","scale":{"type":"band","domain":["after","before"],"paddingInner":0,"paddingOuter":0},"axis":null},
    "xOffset":{"field":"s0","type":"quantitative","scale":{"domain":[-4.5,15.5],"range":[44.25,164.25],"nice":false,"zero":false}},
    "y":{"field":"v","type":"quantitative","title":"log copy #"}}}
 ]},
{"width":426,"height":36,"view":{"fill":"#FE9590","stroke":"#333333","strokeWidth":1.5},"data":{"values":[{"t":"Enetrobacteriaceae"}]},"mark":{"type":"text","fontStyle":"italic","fontSize":20,"dy":13,"baseline":"alphabetic","color":"#111111"},"encoding":{"text":{"field":"t","type":"nominal"}}},
{"width":417,"height":36,"view":{"fill":"#66BF9B","stroke":"#333333","strokeWidth":1.5},"data":{"values":[{"t":"B lautia"}]},"mark":{"type":"text","fontStyle":"italic","fontSize":20,"dy":13,"baseline":"alphabetic","color":"#111111"},"encoding":{"text":{"field":"t","type":"nominal"}}},
{"width":426,"height":216,"view":{"fill":"#FE9590","stroke":"#333333","strokeWidth":1.5},
 "layer":[
  {"data":{"name":"box"},"transform":[{"filter":"datum.p == 'Ente'"}],"mark":{"type":"rule","color":"#3c3c3c","strokeWidth":1},
   "encoding":{"x":{"field":"g","type":"nominal","scale":{"type":"band","domain":["after","before"],"paddingInner":0,"paddingOuter":0},"axis":null},
    "y":{"field":"lo","type":"quantitative","title":"log copy #","scale":{"domain":[-0.23,4.41],"nice":false,"zero":false},"axis":{"values":[0,2,4],"format":"d","tickSize":12,"labelPadding":8,"labelFontSize":20,"titleFontSize":27,"titlePadding":12,"minExtent":33,"maxExtent":33,"titleY":90}},
    "y2":{"field":"hi"}}},
  {"data":{"name":"box"},"transform":[{"filter":"datum.p == 'Ente'"}],"mark":{"type":"bar","size":71,"fill":"#BEBEBE","stroke":"#444444","strokeWidth":1.3},
   "encoding":{"x":{"field":"g","type":"nominal","scale":{"type":"band","domain":["after","before"],"paddingInner":0,"paddingOuter":0},"axis":null},"y":{"field":"q1","type":"quantitative","title":"log copy #"},"y2":{"field":"q3"}}},
  {"data":{"name":"box"},"transform":[{"filter":"datum.p == 'Ente'"}],"mark":{"type":"tick","size":71,"thickness":1.5,"color":"#444444","orient":"horizontal"},
   "encoding":{"x":{"field":"g","type":"nominal","scale":{"type":"band","domain":["after","before"],"paddingInner":0,"paddingOuter":0},"axis":null},"y":{"field":"med","type":"quantitative","title":"log copy #"}}},
  {"data":{"name":"pts"},"transform":[{"filter":"datum.p == 'Ente'"},{"window":[{"op":"count","as":"one"}],"frame":[0,0],"ignorePeers":true},{"stack":"one","groupby":["g","v"],"offset":"center","as":["s0","s1"]}],
   "mark":{"type":"point"},
   "encoding":{"x":{"field":"g","type":"nominal","scale":{"type":"band","domain":["after","before"],"paddingInner":0,"paddingOuter":0},"axis":null},
    "xOffset":{"field":"s0","type":"quantitative","scale":{"domain":[-8.5,11.5],"range":[46.5,166.5],"nice":false,"zero":false}},
    "y":{"field":"v","type":"quantitative","title":"log copy #"}}}
 ]},
{"width":417,"height":216,"view":{"fill":"#66BF9B","stroke":"#333333","strokeWidth":1.5},
 "layer":[
  {"data":{"name":"box"},"transform":[{"filter":"datum.p == 'Blau'"}],"mark":{"type":"rule","color":"#3c3c3c","strokeWidth":1},
   "encoding":{"x":{"field":"g","type":"nominal","scale":{"type":"band","domain":["after","before"],"paddingInner":0,"paddingOuter":0},"axis":null},
    "y":{"field":"lo","type":"quantitative","title":"log copy #","scale":{"domain":[0.53,4.55],"nice":false,"zero":false},"axis":{"values":[1.5,3,4.5],"format":".1f","tickSize":13,"labelPadding":6,"labelFontSize":20,"titleFontSize":27,"titlePadding":17,"minExtent":52,"maxExtent":52,"titleY":99}},
    "y2":{"field":"hi"}}},
  {"data":{"name":"box"},"transform":[{"filter":"datum.p == 'Blau'"}],"mark":{"type":"bar","size":71,"fill":"#BEBEBE","stroke":"#444444","strokeWidth":1.3},
   "encoding":{"x":{"field":"g","type":"nominal","scale":{"type":"band","domain":["after","before"],"paddingInner":0,"paddingOuter":0},"axis":null},"y":{"field":"q1","type":"quantitative","title":"log copy #"},"y2":{"field":"q3"}}},
  {"data":{"name":"box"},"transform":[{"filter":"datum.p == 'Blau'"}],"mark":{"type":"tick","size":71,"thickness":1.5,"color":"#444444","orient":"horizontal"},
   "encoding":{"x":{"field":"g","type":"nominal","scale":{"type":"band","domain":["after","before"],"paddingInner":0,"paddingOuter":0},"axis":null},"y":{"field":"med","type":"quantitative","title":"log copy #"}}},
  {"data":{"name":"pts"},"transform":[{"filter":"datum.p == 'Blau'"},{"window":[{"op":"count","as":"one"}],"frame":[0,0],"ignorePeers":true},{"stack":"one","groupby":["g","v"],"offset":"center","as":["s0","s1"]}],
   "mark":{"type":"point"},
   "encoding":{"x":{"field":"g","type":"nominal","scale":{"type":"band","domain":["after","before"],"paddingInner":0,"paddingOuter":0},"axis":null},
    "xOffset":{"field":"s0","type":"quantitative","scale":{"domain":[-9,11],"range":[44.25,164.25],"nice":false,"zero":false}},
    "y":{"field":"v","type":"quantitative","title":"log copy #"}}},
  {"data":{"name":"pv"},"transform":[{"filter":"datum.p == 'Blau'"}],"mark":{"type":"rule","color":"#2a2a2a","strokeWidth":2.5,"xOffset":31,"x2Offset":-27},
   "encoding":{"x":{"field":"a","type":"nominal","scale":{"type":"band","domain":["after","before"],"paddingInner":0,"paddingOuter":0},"axis":null},"x2":{"field":"b"},"y":{"field":"y","type":"quantitative","title":"log copy #"}}},
  {"data":{"name":"pv"},"transform":[{"filter":"datum.p == 'Blau'"}],"mark":{"type":"text","fontSize":20,"baseline":"alphabetic","dy":-12,"dx":12,"color":"#222222"},
   "encoding":{"text":{"field":"t","type":"nominal"},"y":{"field":"y","type":"quantitative","title":"log copy #"}}}
 ]},
{"width":426,"height":36,"view":{"fill":"#66BF9B","stroke":"#333333","strokeWidth":1.5},"data":{"values":[{"t":"C lostridium hiranonis"}]},"mark":{"type":"text","fontStyle":"italic","fontSize":20,"dy":13,"baseline":"alphabetic","color":"#111111"},"encoding":{"text":{"field":"t","type":"nominal"}}},
{"width":417,"height":36,"view":{"fill":"#FFFFFF","stroke":"#333333","strokeWidth":1.5},"data":{"values":[{"t":"Dy sbiosis index"}]},"mark":{"type":"text","fontSize":20,"dy":13,"baseline":"alphabetic","color":"#111111"},"encoding":{"text":{"field":"t","type":"nominal"}}},
{"width":426,"height":216,"view":{"fill":"#66BF9B","stroke":"#333333","strokeWidth":1.5},
 "layer":[
  {"data":{"name":"box"},"transform":[{"filter":"datum.p == 'Clos'"}],"mark":{"type":"rule","color":"#3c3c3c","strokeWidth":1},
   "encoding":{"x":{"field":"g","type":"nominal","scale":{"type":"band","domain":["after","before"],"paddingInner":0,"paddingOuter":0},"axis":{"title":null,"labelFontSize":22,"tickSize":12,"labelPadding":8,"labelAngle":0}},
    "y":{"field":"lo","type":"quantitative","title":"log copy #","scale":{"domain":[0.955,5.05],"nice":false,"zero":false},"axis":{"values":[1,3,5],"format":"d","tickSize":12,"labelPadding":8,"labelFontSize":20,"titleFontSize":27,"titlePadding":12,"minExtent":33,"maxExtent":33,"titleY":108}},
    "y2":{"field":"hi"}}},
  {"data":{"name":"box"},"transform":[{"filter":"datum.p == 'Clos'"}],"mark":{"type":"bar","size":71,"fill":"#BEBEBE","stroke":"#444444","strokeWidth":1.3},
   "encoding":{"x":{"field":"g","type":"nominal","scale":{"type":"band","domain":["after","before"],"paddingInner":0,"paddingOuter":0},"axis":{"title":null,"labelFontSize":22,"tickSize":12,"labelPadding":8,"labelAngle":0}},"y":{"field":"q1","type":"quantitative","title":"log copy #"},"y2":{"field":"q3"}}},
  {"data":{"name":"box"},"transform":[{"filter":"datum.p == 'Clos'"}],"mark":{"type":"tick","size":71,"thickness":1.5,"color":"#444444","orient":"horizontal"},
   "encoding":{"x":{"field":"g","type":"nominal","scale":{"type":"band","domain":["after","before"],"paddingInner":0,"paddingOuter":0},"axis":{"title":null,"labelFontSize":22,"tickSize":12,"labelPadding":8,"labelAngle":0}},"y":{"field":"med","type":"quantitative","title":"log copy #"}}},
  {"data":{"name":"pts"},"transform":[{"filter":"datum.p == 'Clos'"},{"window":[{"op":"count","as":"one"}],"frame":[0,0],"ignorePeers":true},{"stack":"one","groupby":["g","v"],"offset":"center","as":["s0","s1"]}],
   "mark":{"type":"point"},
   "encoding":{"x":{"field":"g","type":"nominal","scale":{"type":"band","domain":["after","before"],"paddingInner":0,"paddingOuter":0},"axis":{"title":null,"labelFontSize":22,"tickSize":12,"labelPadding":8,"labelAngle":0}},
    "xOffset":{"field":"s0","type":"quantitative","scale":{"domain":[-9.5,10.5],"range":[46.5,166.5],"nice":false,"zero":false}},
    "y":{"field":"v","type":"quantitative","title":"log copy #"}}},
  {"data":{"name":"pv"},"transform":[{"filter":"datum.p == 'Clos'"}],"mark":{"type":"rule","color":"#2a2a2a","strokeWidth":2.5,"xOffset":33.5,"x2Offset":-27.5},
   "encoding":{"x":{"field":"a","type":"nominal","scale":{"type":"band","domain":["after","before"],"paddingInner":0,"paddingOuter":0},"axis":{"title":null,"labelFontSize":22,"tickSize":12,"labelPadding":8,"labelAngle":0}},"x2":{"field":"b"},"y":{"field":"y","type":"quantitative","title":"log copy #"}}},
  {"data":{"name":"pv"},"transform":[{"filter":"datum.p == 'Clos'"}],"mark":{"type":"text","fontSize":20,"baseline":"alphabetic","dy":-12,"dx":13,"color":"#222222"},
   "encoding":{"text":{"field":"t","type":"nominal"},"y":{"field":"y","type":"quantitative","title":"log copy #"}}}
 ]},
{"width":417,"height":216,"view":{"fill":"#FFFFFF","stroke":"#333333","strokeWidth":1.5},
 "layer":[
  {"data":{"name":"box"},"transform":[{"filter":"datum.p == 'Dys'"}],"mark":{"type":"rule","color":"#3c3c3c","strokeWidth":1},
   "encoding":{"x":{"field":"g","type":"nominal","scale":{"type":"band","domain":["after","before"],"paddingInner":0,"paddingOuter":0},"axis":{"title":null,"labelFontSize":22,"tickSize":12,"labelPadding":8,"labelAngle":0}},
    "y":{"field":"lo","type":"quantitative","title":"dysbiosis index","scale":{"domain":[-12.72,1.06],"nice":false,"zero":false},"axis":{"values":[-10,-5,0],"labelExpr":"'' + datum.value","tickSize":13,"labelPadding":6,"labelFontSize":20,"titleFontSize":27,"titlePadding":17,"minExtent":52,"maxExtent":52,"titleY":108}},
    "y2":{"field":"hi"}}},
  {"data":{"name":"box"},"transform":[{"filter":"datum.p == 'Dys'"}],"mark":{"type":"bar","size":71,"fill":"#BEBEBE","stroke":"#444444","strokeWidth":1.3},
   "encoding":{"x":{"field":"g","type":"nominal","scale":{"type":"band","domain":["after","before"],"paddingInner":0,"paddingOuter":0},"axis":{"title":null,"labelFontSize":22,"tickSize":12,"labelPadding":8,"labelAngle":0}},"y":{"field":"q1","type":"quantitative","title":"dysbiosis index"},"y2":{"field":"q3"}}},
  {"data":{"name":"box"},"transform":[{"filter":"datum.p == 'Dys'"}],"mark":{"type":"tick","size":71,"thickness":1.5,"color":"#444444","orient":"horizontal"},
   "encoding":{"x":{"field":"g","type":"nominal","scale":{"type":"band","domain":["after","before"],"paddingInner":0,"paddingOuter":0},"axis":{"title":null,"labelFontSize":22,"tickSize":12,"labelPadding":8,"labelAngle":0}},"y":{"field":"med","type":"quantitative","title":"dysbiosis index"}}},
  {"data":{"name":"pts"},"transform":[{"filter":"datum.p == 'Dys'"},{"window":[{"op":"count","as":"one"}],"frame":[0,0],"ignorePeers":true},{"stack":"one","groupby":["g","v"],"offset":"center","as":["s0","s1"]}],
   "mark":{"type":"point"},
   "encoding":{"x":{"field":"g","type":"nominal","scale":{"type":"band","domain":["after","before"],"paddingInner":0,"paddingOuter":0},"axis":{"title":null,"labelFontSize":22,"tickSize":12,"labelPadding":8,"labelAngle":0}},
    "xOffset":{"field":"s0","type":"quantitative","scale":{"domain":[-10,10],"range":[44.25,164.25],"nice":false,"zero":false}},
    "y":{"field":"v","type":"quantitative","title":"dysbiosis index"}}},
  {"data":{"name":"pv"},"transform":[{"filter":"datum.p == 'Dys'"}],"mark":{"type":"rule","color":"#2a2a2a","strokeWidth":2.5,"xOffset":39,"x2Offset":-19},
   "encoding":{"x":{"field":"a","type":"nominal","scale":{"type":"band","domain":["after","before"],"paddingInner":0,"paddingOuter":0},"axis":{"title":null,"labelFontSize":22,"tickSize":12,"labelPadding":8,"labelAngle":0}},"x2":{"field":"b"},"y":{"field":"y","type":"quantitative","title":"dysbiosis index"}}},
  {"data":{"name":"pv"},"transform":[{"filter":"datum.p == 'Dys'"}],"mark":{"type":"text","fontSize":20,"baseline":"alphabetic","dy":-13,"dx":20,"color":"#222222"},
   "encoding":{"text":{"field":"t","type":"nominal"},"y":{"field":"y","type":"quantitative","title":"dysbiosis index"}}}
 ]}
]
}
